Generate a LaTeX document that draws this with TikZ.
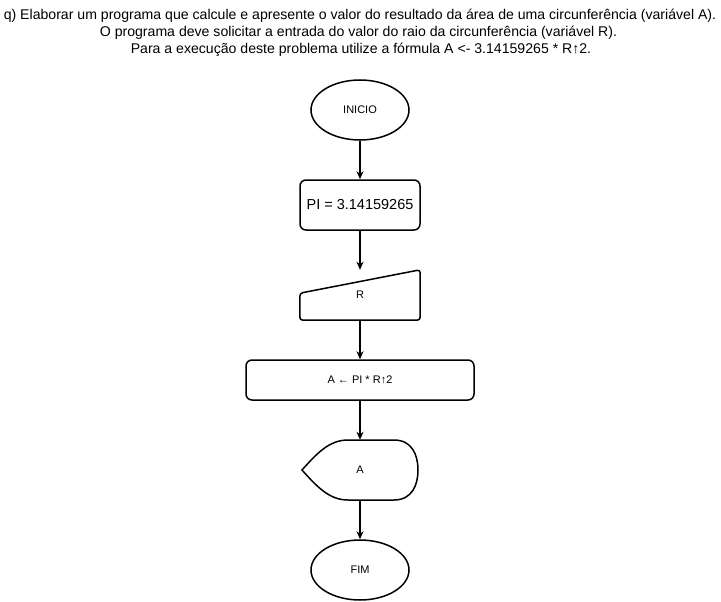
\documentclass[tikz,border=0pt]{standalone}
\usepackage{fontspec}
\setmainfont{Liberation Sans}
\usetikzlibrary{arrows.meta,shapes.geometric}
\begin{document}
\begin{tikzpicture}[x=1pt,y=-1pt,
  shape line/.style={draw=black,line width=1.5pt},
  lbl/.style={font=\fontsize{11}{13}\selectfont},
  terminal/.style={ellipse,shape line,minimum width=98pt,minimum height=60pt,inner sep=0pt,lbl},
  procbox/.style={rectangle,rounded corners=6pt,shape line,inner sep=0pt,lbl},
  plain/.style={inner sep=0pt,lbl},
  flow/.style={draw=black,line width=1.1pt,-{Stealth[length=8pt,width=7pt,inset=2.5pt]}},
  heading/.style={inner sep=0pt,anchor=base,font=\fontsize{14.1}{16}\selectfont}
]
\useasboundingbox (0,0) rectangle (721,602);

% statement of the exercise
\node[heading] (t1) at (360,19.5) {q) Elaborar um programa que calcule e apresente o valor do resultado da área de uma circunferência (variável A).};
\node[heading] (t2) at (358.5,36.8) {O programa deve solicitar a entrada do valor do raio da circunferência (variável R).};
\node[heading] (t3) at (361,53.5) {Para a execução deste problema utilize a fórmula A <- 3.14159265 * R↑2.};

% start
\node[terminal] (inicio) at (360,110) {INICIO};

% constant
\node[procbox,minimum width=120pt,minimum height=50pt,font=\fontsize{14.5}{16}\selectfont] (pi) at (360,205) {PI = 3.14159265};

% manual input of R
\node[plain,minimum width=120pt,minimum height=50pt] (r) at (360,295) {R};
\draw[shape line,rounded corners=3pt] (r.south west) -- ++(0,-27) -- (r.north east) -- (r.south east) -- cycle;

% area computation
\node[procbox,minimum width=228pt,minimum height=40pt] (calc) at (360,380) {A ← PI * R↑2};

% display of A
\node[plain,minimum width=116pt,minimum height=60pt] (out) at (360,470) {A};
\draw[shape line] (302,470) .. controls (318,452) and (330,440) .. (348,440)
  -- (394,440) .. controls (412,440) and (418,455) .. (418,470)
  .. controls (418,485) and (412,500) .. (394,500)
  -- (348,500) .. controls (330,500) and (318,488) .. (302,470) -- cycle;

% end
\node[terminal] (fim) at (360,570) {FIM};

% flow
\draw[flow] (inicio) -- (pi);
\draw[flow] (pi) -- (r);
\draw[flow] (r) -- (calc);
\draw[flow] (calc) -- (out);
\draw[flow] (out) -- (fim);
\end{tikzpicture}
\end{document}
